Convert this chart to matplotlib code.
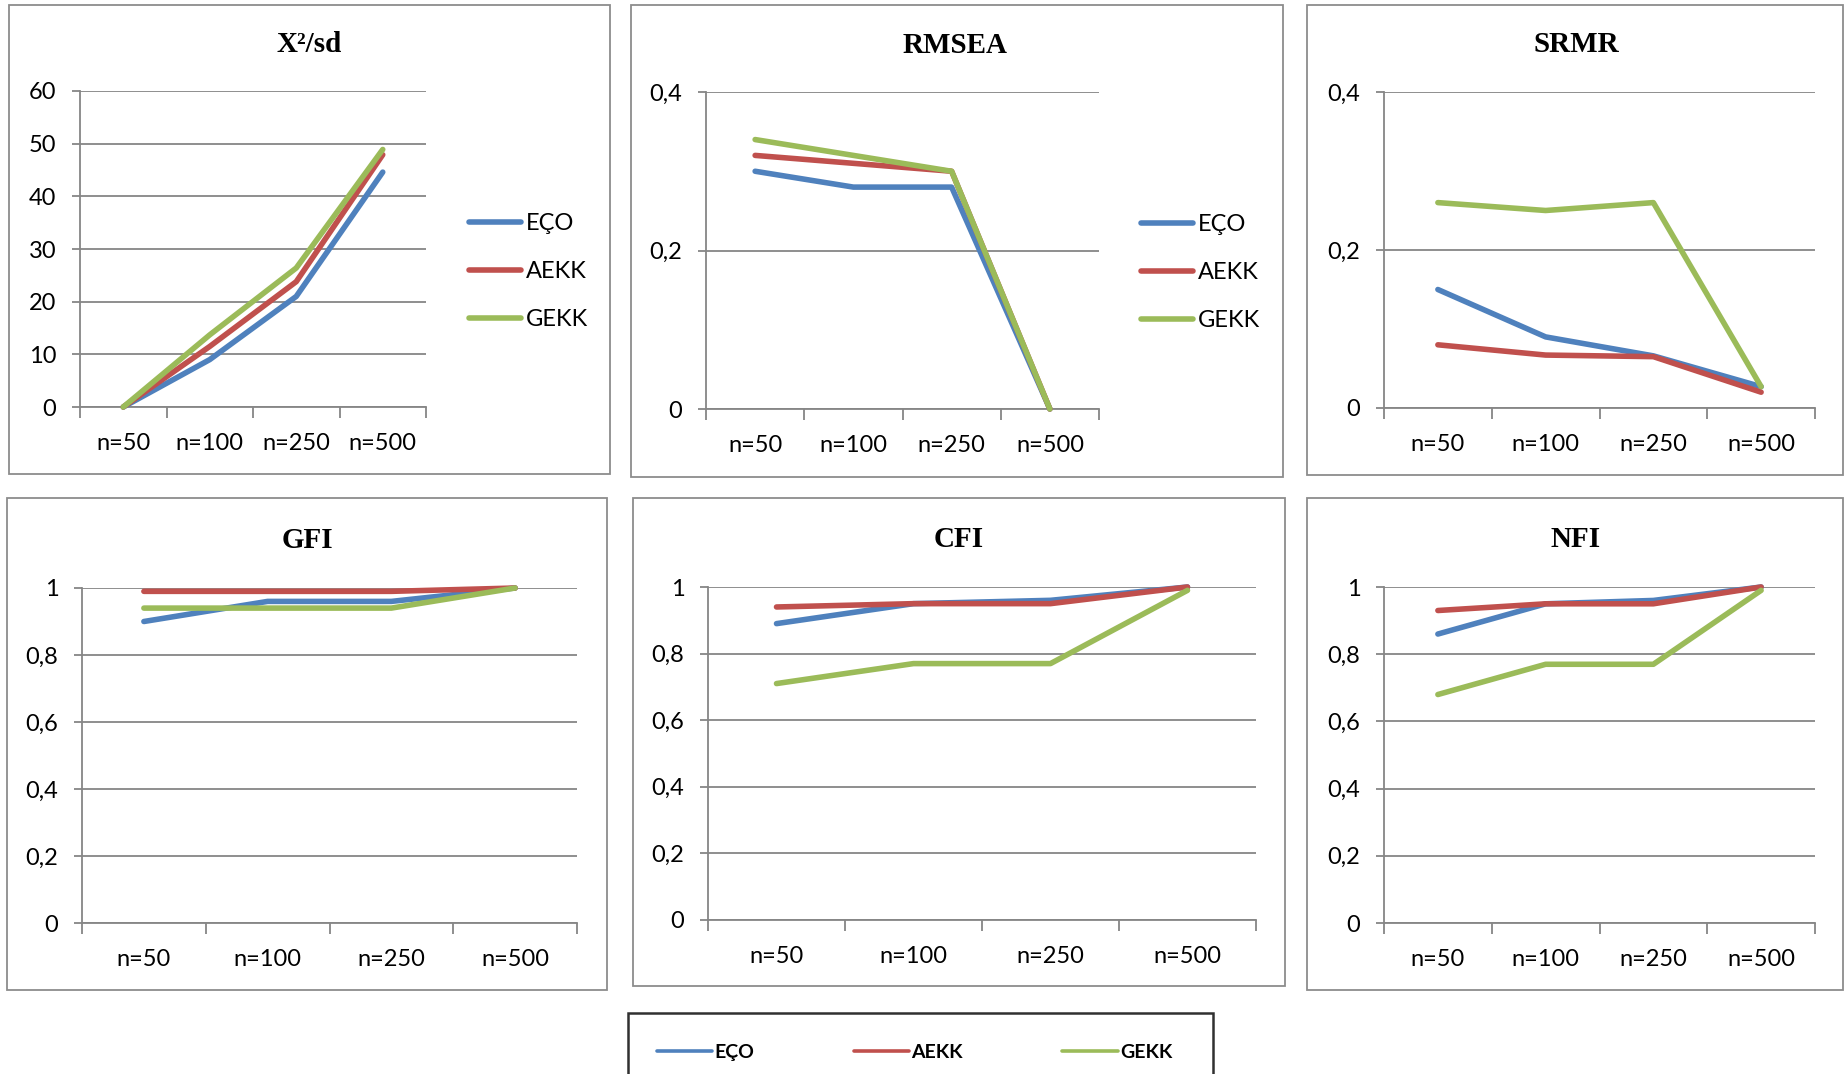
import matplotlib
matplotlib.use("Agg")
import matplotlib.pyplot as plt
from matplotlib.patches import Rectangle
from matplotlib.lines import Line2D
from matplotlib.ticker import FixedLocator, FuncFormatter

# ---- data ----
categories = ["n=50", "n=100", "n=250", "n=500"]
series_names = ["EÇO", "AEKK", "GEKK"]

chi2_eco = [0.0, 9.0, 21.0, 44.6]
chi2_aekk = [0.0, 11.5, 23.8, 47.9]
chi2_gekk = [0.0, 13.7, 26.4, 48.9]

rmsea_eco = [0.30, 0.28, 0.28, 0.0]
rmsea_aekk = [0.32, 0.31, 0.30, 0.0]
rmsea_gekk = [0.34, 0.32, 0.30, 0.0]

srmr_eco = [0.15, 0.09, 0.066, 0.027]
srmr_aekk = [0.08, 0.067, 0.065, 0.02]
srmr_gekk = [0.26, 0.25, 0.26, 0.027]

gfi_eco = [0.90, 0.96, 0.96, 1.0]
gfi_aekk = [0.99, 0.99, 0.99, 1.0]
gfi_gekk = [0.94, 0.94, 0.94, 1.0]

cfi_eco = [0.89, 0.95, 0.96, 1.0]
cfi_aekk = [0.94, 0.95, 0.95, 1.0]
cfi_gekk = [0.71, 0.77, 0.77, 0.99]

nfi_eco = [0.86, 0.95, 0.96, 1.0]
nfi_aekk = [0.93, 0.95, 0.95, 1.0]
nfi_gekk = [0.68, 0.77, 0.77, 0.99]

titles = ["X²/sd", "RMSEA", "SRMR", "GFI", "CFI", "NFI"]
yticks_chi2 = [0, 10, 20, 30, 40, 50, 60]
yticks_small = [0, 0.2, 0.4]
yticks_unit = [0, 0.2, 0.4, 0.6, 0.8, 1.0]

colors = ["#4F81BD", "#C0504D", "#9BBB59"]
GRID = "#868686"
W, H = 1845, 1074

fig = plt.figure(figsize=(W / 100, H / 100), dpi=100)
fig.patch.set_facecolor("white")

TICK_FONT = "Lato"
TITLE_FONT = "Liberation Serif"
TICK_SIZE = 17


def fx(x):
    return x / W


def fy(y):
    return 1 - y / H


def comma(v, _pos=None):
    if abs(v - round(v)) < 1e-9:
        return str(int(round(v)))
    return f"{v:g}".replace(".", ",")


def panel_box(x0, y0, x1, y1):
    fig.patches.append(Rectangle((fx(x0), fy(y1)), fx(x1) - fx(x0), fy(y0) - fy(y1),
                                 transform=fig.transFigure, fill=False,
                                 edgecolor="#8c8c8c", linewidth=1.3, zorder=0))


def make_axes(rect_px, ymax, yticks, data, title, title_xy, legend_px=None):
    l, t, r, b = rect_px
    ax = fig.add_axes([fx(l), fy(b), fx(r) - fx(l), fy(t) - fy(b)])
    x = list(range(len(categories)))
    handles = []
    for vals, c, name in zip(data, colors, series_names):
        h, = ax.plot(x, vals, color=c, linewidth=4.0, solid_capstyle="round",
                     solid_joinstyle="round", clip_on=False, zorder=3, label=name)
        handles.append(h)
    ax.set_xlim(-0.5, len(categories) - 0.5)
    ax.set_ylim(0, ymax)
    ax.set_xticks(x)
    ax.set_xticklabels(categories, fontfamily=TICK_FONT, fontsize=TICK_SIZE)
    ax.xaxis.set_minor_locator(FixedLocator([i - 0.5 for i in range(len(categories) + 1)]))
    ax.tick_params(axis="x", which="major", length=0, pad=18.5)
    ax.tick_params(axis="x", which="minor", length=8, width=1.3, color=GRID, direction="out")
    ax.yaxis.set_major_locator(FixedLocator(yticks))
    ax.yaxis.set_major_formatter(FuncFormatter(comma))
    ax.tick_params(axis="y", length=6, width=1.3, color=GRID, direction="out", pad=11,
                   labelsize=TICK_SIZE)
    for lab in ax.get_yticklabels():
        lab.set_fontfamily(TICK_FONT)
    ax.grid(axis="y", color=GRID, linewidth=1.3, zorder=1)
    ax.set_axisbelow(True)
    for s in ["top", "right"]:
        ax.spines[s].set_visible(False)
    for s in ["left", "bottom"]:
        ax.spines[s].set_color(GRID)
        ax.spines[s].set_linewidth(1.3)
    ax.set_facecolor("none")
    fig.text(fx(title_xy[0]), fy(title_xy[1]), title, ha="center", va="center",
             fontfamily=TITLE_FONT, fontweight="bold", fontsize=21)
    if legend_px is not None:
        ax.legend(handles=handles, loc="center left",
                  bbox_to_anchor=(fx(legend_px[0]), fy(legend_px[1])),
                  bbox_transform=fig.transFigure, frameon=False, borderpad=0,
                  borderaxespad=0, handlelength=2.2, handletextpad=0.22,
                  labelspacing=1.15, prop={"family": TICK_FONT, "size": TICK_SIZE})
    return ax


# panel frames
panel_box(9, 5, 610, 474)
panel_box(631, 5, 1283, 477)
panel_box(1307, 5, 1843, 475)
panel_box(7, 498, 607, 990)
panel_box(633, 498, 1285, 986)
panel_box(1307, 498, 1843, 990)

make_axes((80, 91, 426, 407), 60, yticks_chi2, [chi2_eco, chi2_aekk, chi2_gekk],
          titles[0], (309, 44.5), legend_px=(469, 271.5))
make_axes((706, 92, 1099, 409), 0.4, yticks_small, [rmsea_eco, rmsea_aekk, rmsea_gekk],
          titles[1], (955, 45.5), legend_px=(1141, 272.5))
make_axes((1384, 92, 1815, 408), 0.4, yticks_small, [srmr_eco, srmr_aekk, srmr_gekk],
          titles[2], (1576, 44.5))
make_axes((82, 588, 577, 923), 1.0, yticks_unit, [gfi_eco, gfi_aekk, gfi_gekk],
          titles[3], (307, 540.5))
make_axes((708, 587, 1256, 920), 1.0, yticks_unit, [cfi_eco, cfi_aekk, cfi_gekk],
          titles[4], (959, 539.5))
make_axes((1384, 587, 1815, 923), 1.0, yticks_unit, [nfi_eco, nfi_aekk, nfi_gekk],
          titles[5], (1576, 539.5))

# shared legend at the bottom
fig.patches.append(Rectangle((fx(628), fy(1080)), fx(1213) - fx(628), fy(1013) - fy(1080),
                             transform=fig.transFigure, fill=False,
                             edgecolor="#303030", linewidth=1.8, zorder=0))
shared = [Line2D([], [], color=c, linewidth=2.6, solid_capstyle="round") for c in colors]
fig.legend(handles=shared, labels=series_names, loc="center left",
           bbox_to_anchor=(fx(657), fy(1052.5)), bbox_transform=fig.transFigure,
           ncol=3, frameon=False, borderpad=0, borderaxespad=0, handlelength=2.85,
           handletextpad=0.12, columnspacing=5.1,
           prop={"family": TICK_FONT, "size": 14, "weight": "bold"})

fig.savefig("out.png", dpi=100, facecolor="white")
